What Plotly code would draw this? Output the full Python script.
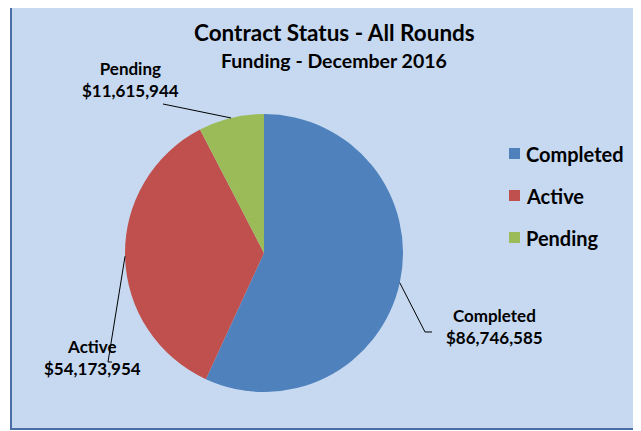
import math
import plotly.graph_objs as go

# data
labels = ['Completed', 'Active', 'Pending']
values = [86746585, 54173954, 11615944]
colors = ['#4F81BD', '#C0504D', '#9BBB59']

W, H = 641, 431
FONT = 'Lato'
OFF = 8  # page body margin

# pie placement in page pixels
cx, cy, r = 264, 253, 139


def px(x):
    return (x - OFF) / W


def py(y):
    return 1 - (y - OFF) / H


fig = go.Figure()

fig.add_trace(
    go.Pie(
        labels=labels,
        values=values,
        marker=dict(colors=colors, line=dict(width=0)),
        sort=False,
        direction='clockwise',
        rotation=0,
        textinfo='none',
        hoverinfo='label+value',
        showlegend=False,
        domain=dict(x=[px(cx - r), px(cx + r)], y=[py(cy + r), py(cy - r)]),
    )
)

# background frame
shapes = [
    dict(type='rect', xref='paper', yref='paper',
         x0=px(11), x1=px(W + 20), y0=py(429), y1=py(4),
         fillcolor='#C6D9F1', line=dict(color='#4A6FA5', width=2), layer='below'),
]

# data labels with leader lines (from the mid angle of each slice)
label_pos = {
    'Completed': dict(text=(494, 315), elbow=[(425, 332), (432, 332)]),
    'Active': dict(text=(92, 346), elbow=[(108, 362), (112, 362)]),
    'Pending': dict(text=(130, 68), elbow=[(163, 104)]),
}

annotations = []
total = float(sum(values))
cum = 0.0
for lab, val in zip(labels, values):
    mid = (cum + val / 2) / total * 2 * math.pi
    cum += val
    ex = cx + r * math.sin(mid)
    ey = cy - r * math.cos(mid)
    pts = [(ex, ey)] + label_pos[lab]['elbow']
    path = 'M ' + ' L '.join('%f,%f' % (px(x), py(y)) for x, y in pts)
    shapes.append(dict(type='path', xref='paper', yref='paper', path=path,
                       line=dict(color='black', width=1)))
    tx, ty = label_pos[lab]['text']
    annotations.append(dict(
        x=px(tx), y=py(ty + 11.5), xref='paper', yref='paper',
        xanchor='center', yanchor='middle',
        text='%s<br>$%s' % (lab, format(val, ',')),
        showarrow=False, align='center',
        font=dict(family=FONT, size=17, color='black', weight='bold'),
    ))

# legend drawn by hand to get the wide spacing
for i, (lab, col) in enumerate(zip(labels, colors)):
    ly = 154 + i * 42
    shapes.append(dict(type='rect', xref='paper', yref='paper',
                       x0=px(509), x1=px(520), y0=py(ly + 5), y1=py(ly - 6),
                       fillcolor=col, line=dict(width=0)))
    annotations.append(dict(
        x=px(524), y=py(ly), xref='paper', yref='paper',
        xanchor='left', yanchor='middle',
        text=lab, showarrow=False,
        font=dict(family=FONT, size=20, color='black', weight='bold'),
    ))

# titles
annotations.append(dict(x=px(334), y=py(32), xref='paper', yref='paper',
                        xanchor='center', yanchor='middle',
                        text='Contract Status - All Rounds', showarrow=False,
                        font=dict(family=FONT, size=22.5, color='black', weight='bold')))
annotations.append(dict(x=px(334), y=py(60), xref='paper', yref='paper',
                        xanchor='center', yanchor='middle',
                        text='Funding - December 2016', showarrow=False,
                        font=dict(family=FONT, size=19.5, color='black', weight='bold')))

fig.update_layout(
    width=W, height=H,
    margin=dict(l=0, r=0, t=0, b=0),
    paper_bgcolor='white',
    shapes=shapes,
    annotations=annotations,
)

fig.write_html('out.html')
